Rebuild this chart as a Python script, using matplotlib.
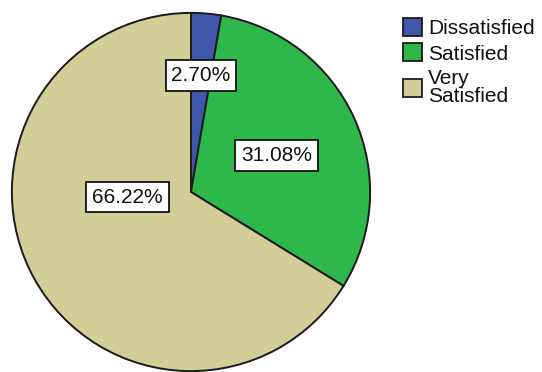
import matplotlib
matplotlib.use("Agg")
import math
import matplotlib.pyplot as plt
from matplotlib.patches import Patch

categories = ["Dissatisfied", "Satisfied", "Very\nSatisfied"]
counts = [2, 23, 49]
colors = ["#3e57aa", "#2eb84b", "#d3ce98"]

plt.rcParams['font.family'] = ['Liberation Sans', 'DejaVu Sans']

W, H = 542, 372
fig = plt.figure(figsize=(W / 100, H / 100), dpi=100)
cx, cy, r = 191, 192, 180
ax = fig.add_axes([(cx - r) / W, (H - cy - r) / H, 2 * r / W, 2 * r / H])

wedges, texts, autotexts = ax.pie(
    counts, colors=colors, startangle=90, counterclock=False,
    autopct="%.2f%%", pctdistance=0.6,
    wedgeprops=dict(edgecolor="#1a1a1a", linewidth=1.4),
    textprops=dict(fontsize=15, color="#111111"))

# label placement (layout): radius and angle (degrees) for each percentage box
label_layout = [(0.652, 85.1), (0.52, 22.9), (0.356, 184.5)]
for t, (rr, ang) in zip(autotexts, label_layout):
    t.set_position((rr * math.cos(math.radians(ang)), rr * math.sin(math.radians(ang))))
    t.set_ha("center")
    t.set_va("center")
    t.set_bbox(dict(boxstyle="square,pad=0.28", facecolor="white",
                    edgecolor="#111111", linewidth=1.3))

ax.set_xlim(-1.005, 1.005)
ax.set_ylim(-1.005, 1.005)
ax.set_aspect("equal")
ax.axis("off")

handles = [Patch(facecolor=c, edgecolor="#1a1a1a", linewidth=1.3) for c in colors]
leg = fig.legend(handles, categories, loc="upper left",
                 bbox_to_anchor=(403 / W, 1 - 18 / H), frameon=False,
                 fontsize=15, handlelength=0.9, handleheight=0.95,
                 handletextpad=0.3, labelspacing=0.25, borderpad=0,
                 borderaxespad=0)
for t in leg.get_texts():
    t.set_color("#111111")
leg.get_texts()[2].set_linespacing(0.95)

fig.savefig("out.png", dpi=100)
